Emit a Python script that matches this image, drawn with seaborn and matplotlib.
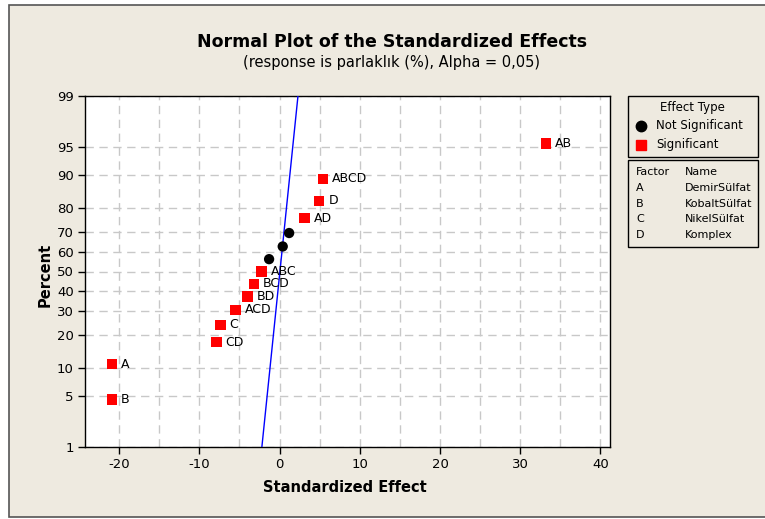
import numpy as np
import pandas as pd
import matplotlib
matplotlib.use("Agg")
import matplotlib.pyplot as plt
from matplotlib.patches import Rectangle
from matplotlib.lines import Line2D
from matplotlib.ticker import MultipleLocator, FixedLocator
from statistics import NormalDist
import seaborn as sns

# effects, sorted, with their plotting percents
labels = ["B", "A", "CD", "C", "ACD", "BD", "BCD", "ABC", "", "", "", "AD", "D", "ABCD", "AB"]
effects = [-20.9, -20.9, -7.85, -7.35, -5.5, -4.0, -3.2, -2.25, -1.3, 0.4, 1.2, 3.1, 4.95, 5.45, 33.2]
percents = [4.5, 11.0, 17.5, 24.0, 30.5, 37.0, 43.5, 50.0, 56.5, 63.0, 69.5, 76.0, 82.5, 89.0, 95.5]
effect_type = ["Significant"] * 8 + ["Not Significant"] * 3 + ["Significant"] * 4

# fitted line (ends read at 1% and 99%)
line_x = [-2.2, 2.3]
line_pct = [1, 99]

y_ticks = [1, 5, 10, 20, 30, 40, 50, 60, 70, 80, 90, 95, 99]
x_ticks = [-20, -10, 0, 10, 20, 30, 40]

factor_codes = ["A", "B", "C", "D"]
factor_names = ["DemirSülfat", "KobaltSülfat", "NikelSülfat", "Komplex"]

df = pd.DataFrame({"effect": effects, "percent": percents, "type": effect_type, "label": labels})

bg = "#EEEAE0"
sns.set_theme(style="white")
plt.rcParams["font.family"] = ["DejaVu Sans"]
plt.rcParams["text.color"] = "black"
plt.rcParams["axes.labelcolor"] = "black"
plt.rcParams["xtick.color"] = "black"
plt.rcParams["ytick.color"] = "black"

nd = NormalDist()
_f = np.vectorize(lambda v: nd.inv_cdf(v / 100.0), otypes=[float])
_i = np.vectorize(lambda v: nd.cdf(v) * 100.0, otypes=[float])


def fwd(p):
    p = np.clip(np.asarray(p, dtype=float), 1e-6, 100 - 1e-6)
    return _f(p)


def inv(z):
    return _i(np.asarray(z, dtype=float))


W, H = 765, 519
fig = plt.figure(figsize=(W / 100, H / 100), dpi=100)
fig.patch.set_facecolor("white")


def fx(px):
    return px / W


def fy(py):
    return 1 - py / H


fig.patches.append(Rectangle((fx(9.3), fy(517)), 1, fy(4.7) - fy(517), transform=fig.transFigure,
                             facecolor=bg, edgecolor="#555555", lw=1.2, zorder=-10))

ax = fig.add_axes([fx(85), fy(447), fx(610) - fx(85), fy(96) - fy(447)])
ax.set_facecolor("white")
ax.set_yscale("function", functions=(fwd, inv))

sns.lineplot(x=line_x, y=line_pct, ax=ax, color="#0000FF", lw=1, zorder=3)
sns.scatterplot(data=df, x="effect", y="percent", hue="type", style="type",
                palette={"Significant": "#FF0000", "Not Significant": "black"},
                markers={"Significant": "s", "Not Significant": "o"},
                s=55, linewidth=0, legend=False, ax=ax, zorder=4)

for _, r in df.iterrows():
    if r["label"]:
        ax.annotate(r["label"], (r["effect"], r["percent"]), xytext=(6.5, 0), textcoords="offset points",
                    ha="left", va="center", fontsize=9, color="black", zorder=5)

ax.set_xlim(-24.25, 41.2)
ax.set_ylim(1, 99)
ax.xaxis.set_major_locator(FixedLocator(x_ticks))
ax.xaxis.set_minor_locator(MultipleLocator(5))
ax.yaxis.set_major_locator(FixedLocator(y_ticks))
ax.yaxis.set_minor_locator(FixedLocator([]))
ax.set_yticklabels([str(t) for t in y_ticks])
ax.set_xticklabels([str(t) for t in x_ticks])

ax.grid(True, which="both", axis="x", color="#C8C8C8", ls=(0, (6, 4)), lw=1)
ax.grid(True, which="major", axis="y", color="#C8C8C8", ls=(0, (6, 4)), lw=1)
ax.set_axisbelow(True)
ax.tick_params(which="major", direction="out", length=5, width=1, color="black",
               labelsize=9.5, pad=3, bottom=True, left=True, labelcolor="black")
ax.tick_params(which="minor", length=0)
for s in ax.spines.values():
    s.set_color("black")
    s.set_linewidth(1)

ax.set_xlabel("Standardized Effect", fontsize=10.5, fontweight="bold", color="black")
ax.set_ylabel("Percent", fontsize=10.5, fontweight="bold", color="black")
ax.xaxis.set_label_coords(0.495, -0.095)
ax.yaxis.set_label_coords(-0.061, 0.49)

fig.text(fx(392), fy(42), "Normal Plot of the Standardized Effects", ha="center", va="center",
         fontsize=12.5, fontweight="bold")
fig.text(fx(392), fy(63), "(response is parlaklık (%), Alpha = 0,05)", ha="center", va="center",
         fontsize=10.5)

# legend: effect type
fig.patches.append(Rectangle((fx(628), fy(156.5)), fx(758) - fx(628), fy(96) - fy(156.5),
                             transform=fig.transFigure, facecolor=bg, edgecolor="black", lw=1))
fig.text(fx(692), fy(108), "Effect Type", ha="center", va="center", fontsize=8.5)
fig.lines.append(Line2D([fx(641)], [fy(126)], transform=fig.transFigure, marker="o", color="black",
                        ms=7.5, ls="none"))
fig.lines.append(Line2D([fx(641)], [fy(144.5)], transform=fig.transFigure, marker="s", color="#FF0000",
                        ms=7, ls="none"))
fig.text(fx(656), fy(126), "Not Significant", ha="left", va="center", fontsize=8.5)
fig.text(fx(656), fy(144.5), "Significant", ha="left", va="center", fontsize=8.5)

# legend: factors
fig.patches.append(Rectangle((fx(628), fy(247)), fx(758) - fx(628), fy(160) - fy(247),
                             transform=fig.transFigure, facecolor=bg, edgecolor="black", lw=1))
fig.text(fx(636), fy(172), "Factor", ha="left", va="center", fontsize=8)
fig.text(fx(685), fy(172), "Name", ha="left", va="center", fontsize=8)
for k, (c, n) in enumerate(zip(factor_codes, factor_names)):
    yy = 188 + k * 15.6
    fig.text(fx(636), fy(yy), c, ha="left", va="center", fontsize=8)
    fig.text(fx(685), fy(yy), n, ha="left", va="center", fontsize=8)

fig.savefig("out.png", dpi=100, facecolor=fig.get_facecolor())
